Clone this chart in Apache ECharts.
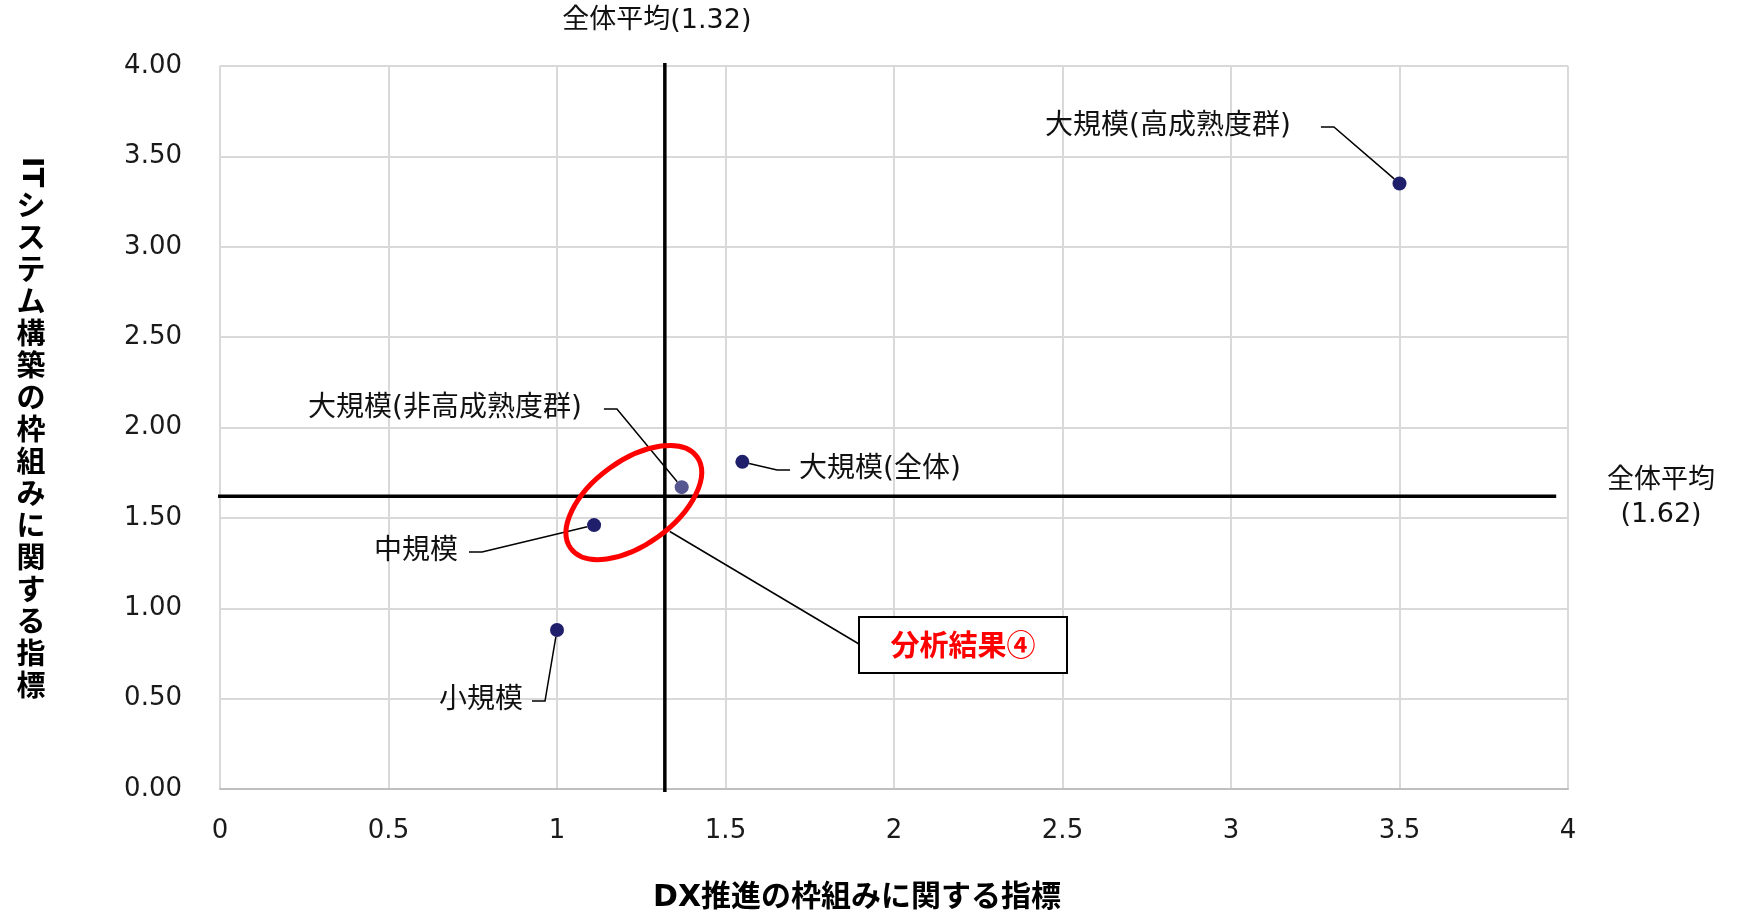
<!DOCTYPE html>
<html>
<head>
<meta charset="utf-8">
<script src="https://cdn.jsdelivr.net/npm/echarts@6/dist/echarts.min.js"></script>
<style>
  html, body { margin: 0; padding: 0; background: #ffffff; }
  #chart { width: 1742px; height: 910px; }
</style>
</head>
<body>
<div id="chart"></div>
<script>
// Company-size groups and their two framework indices
const groupNames = ['小規模', '中規模', '大規模(非高成熟度群)', '大規模(全体)', '大規模(高成熟度群)'];
const dxScores = [1.00, 1.11, 1.37, 1.55, 3.50];
const itScores = [0.88, 1.46, 1.67, 1.81, 3.35];

// Overall averages drawn as reference lines
const dxAverage = 1.32;
const itAverage = 1.62;

// Axis ranges and tick spacing
const axisMin = 0;
const axisMax = 4;
const tickStep = 0.5;

// Texts
const xAxisTitle = 'DX推進の枠組みに関する指標';
const yAxisTitleLatin = 'IT';
const yAxisTitleRest = 'システム構築の枠組みに関する指標';
const dxAverageLabel = '全体平均(' + dxAverage.toFixed(2) + ')';
const itAverageLabel = '全体平均\n(' + itAverage.toFixed(2) + ')';
const calloutText = '分析結果④';

// ---- layout / style (pixels) ----
const fontLatin = '"DejaVu Sans", "Noto Sans CJK JP", sans-serif';
const fontCJK = '"Noto Sans CJK JP", sans-serif';
const labelCenters = [[481, 701], [416, 552], [445, 409], [880, 470], [1168, 127]];
const labelPads = [9, 11, 22, 9, 30];
const pointColor = '#1f1f6b';
const mutedPointColor = '#55558f';

const chart = echarts.init(document.getElementById('chart'), null, { renderer: 'canvas' });

const points = groupNames.map((name, i) => ({
  name: name,
  value: [dxScores[i], itScores[i]],
  itemStyle: { color: i === 2 ? mutedPointColor : pointColor, opacity: 1 },
  label: { padding: [0, labelPads[i]] }
}));

const option = {
  animation: false,
  backgroundColor: '#ffffff',
  grid: { left: 220, top: 66, right: 174, bottom: 121, containLabel: false, outerBoundsMode: 'none' },
  xAxis: {
    type: 'value',
    min: axisMin, max: axisMax, interval: tickStep,
    name: xAxisTitle,
    nameLocation: 'middle',
    nameGap: 94,
    nameTextStyle: { fontFamily: fontLatin, fontSize: 30, fontWeight: 'bold', color: '#000',
      padding: [0, 74, 0, 0] },
    axisLine: { show: true, lineStyle: { color: '#bfbfbf', width: 2 } },
    axisTick: { show: false },
    axisLabel: { fontFamily: fontLatin, fontSize: 26, color: '#1a1a1a', margin: 29,
      formatter: v => String(v) },
    splitLine: { show: true, lineStyle: { color: '#d9d9d9', width: 2 } }
  },
  yAxis: {
    type: 'value',
    min: axisMin, max: axisMax, interval: tickStep,
    axisLine: { show: false },
    axisTick: { show: false },
    axisLabel: { fontFamily: fontLatin, fontSize: 26, color: '#1a1a1a', margin: 38,
      formatter: v => v.toFixed(2) },
    splitLine: { show: true, lineStyle: { color: '#d9d9d9', width: 2 } }
  },
  series: [
    {
      type: 'line',
      name: 'dx-average',
      data: [[dxAverage, axisMin - 0.017], [dxAverage, axisMax + 0.017]],
      clip: false, symbol: 'none', silent: true, z: 3,
      lineStyle: { color: '#000', width: 3.5 }
    },
    {
      type: 'line',
      name: 'it-average',
      data: [[axisMin - 0.033, itAverage], [axisMax - 0.035, itAverage]],
      clip: false, symbol: 'none', silent: true, z: 3,
      lineStyle: { color: '#000', width: 3.5 }
    },
    {
      type: 'scatter',
      name: 'groups',
      data: points,
      symbol: 'circle',
      symbolSize: 14,
      z: 5,
      label: {
        show: true,
        formatter: p => p.name,
        fontFamily: fontLatin,
        fontSize: 28,
        color: '#111',
        backgroundColor: 'rgba(255,255,255,0)'
      },
      labelLayout: p => {
        const c = labelCenters[p.dataIndex];
        return { x: c[0], y: c[1], align: 'center', verticalAlign: 'middle' };
      },
      labelLine: {
        show: true,
        length2: 13,
        minTurnAngle: 30,
        lineStyle: { color: '#000', width: 1.5 }
      }
    }
  ]
};

chart.setOption(option);

// Annotations placed from the axes' own scale
function addAnnotations() {
  const topPt = chart.convertToPixel({ gridIndex: 0 }, [dxAverage, axisMax]);
  const rightPt = chart.convertToPixel({ gridIndex: 0 }, [axisMax, itAverage]);
  const focus = chart.convertToPixel({ gridIndex: 0 }, [1.228, 1.585]);

  const ellA = 78, ellB = 42, ellRot = 36 * Math.PI / 180;
  const boxX = 859, boxY = 617, boxW = 208, boxH = 56;

  chart.setOption({
    graphic: [
      // y-axis title written top to bottom
      {
        type: 'text', x: 31, y: 172, rotation: -Math.PI / 2,
        style: { text: yAxisTitleLatin, font: 'bold 29px ' + fontLatin, fill: '#000',
          textAlign: 'center', textVerticalAlign: 'middle' }
      },
      {
        type: 'text', x: 31, y: 189,
        style: { text: yAxisTitleRest.split('').join('\n'), font: 'bold 29px ' + fontCJK,
          lineHeight: 32, fill: '#000', textAlign: 'center', textVerticalAlign: 'top' }
      },
      // average labels
      {
        type: 'text', x: topPt[0] - 8, y: 21,
        style: { text: dxAverageLabel, font: '27px ' + fontLatin, fill: '#111',
          textAlign: 'center', textVerticalAlign: 'middle' }
      },
      {
        type: 'text', x: rightPt[0] + 93, y: rightPt[1] + 2,
        style: { text: itAverageLabel, font: '27px ' + fontLatin, lineHeight: 34, fill: '#111',
          textAlign: 'center', textVerticalAlign: 'middle' }
      },
      // highlighted region
      {
        type: 'ellipse', x: focus[0], y: focus[1], rotation: ellRot, z: 10,
        shape: { cx: 0, cy: 0, rx: ellA, ry: ellB },
        style: { fill: 'none', stroke: '#ff0000', lineWidth: 5 }
      },
      // callout leader and box
      {
        type: 'line', z: 9,
        shape: { x1: focus[0] + 36, y1: focus[1] + 29, x2: boxX, y2: boxY + 27 },
        style: { stroke: '#000', lineWidth: 1.5 }
      },
      {
        type: 'rect', z: 9,
        shape: { x: boxX, y: boxY, width: boxW, height: boxH },
        style: { fill: '#ffffff', stroke: '#000', lineWidth: 2 }
      },
      {
        type: 'text', z: 11, x: boxX + boxW / 2, y: boxY + boxH / 2,
        style: { text: calloutText, font: 'bold 29px ' + fontCJK, fill: '#ff0000',
          textAlign: 'center', textVerticalAlign: 'middle' }
      }
    ]
  });
}
addAnnotations();
</script>
</body>
</html>
